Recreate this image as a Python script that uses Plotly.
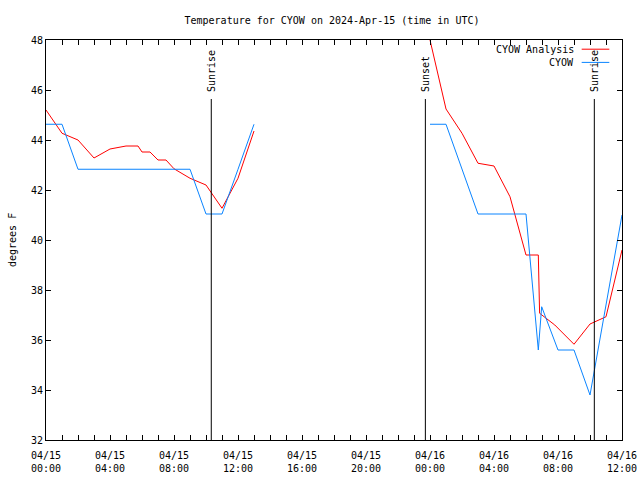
import pandas as pd
import plotly.graph_objects as go

BASE = "2024-04-15 00:00"

# CYOW Analysis (red) -- hours after 2024-04-15 00:00 UTC ; None = gap
ana_hours = [0, 1, 2, 3, 4, 5, 5.75, 6, 6.5, 7, 7.5, 8, 9, 10, 11, 12, 13,
             None,
             24, 25, 26, 27, 28, 29, 30, 30.77, 30.85, 31.8, 33, 34, 35, 36]
ana_temp = [45.2, 44.27, 44.0, 43.28, 43.64, 43.76, 43.76, 43.52, 43.52, 43.2, 43.2,
            42.85, 42.47, 42.2, 41.27, 42.47, 44.36,
            None,
            48.0, 45.24, 44.27, 43.07, 42.96, 41.73, 39.4, 39.4, 37.07, 36.6, 35.83,
            36.64, 36.93, 39.6]

# CYOW observations (blue)
obs_hours = [0, 1, 2, 9, 10, 11, 12, 13,
             None,
             24, 25, 27, 30, 30.77, 30.98, 32, 33, 34, 36]
obs_temp = [44.63, 44.63, 42.83, 42.83, 41.04, 41.04, 42.83, 44.63,
            None,
            44.63, 44.63, 41.04, 41.04, 35.6, 37.33, 35.6, 35.6, 33.8, 41.0]

# Sun events (hours after base)
event_names = ["Sunrise", "Sunset", "Sunrise"]
event_hours = [10.33, 23.71, 34.27]

x_range_hours = [0, 36]
y_range = [32, 48]

base = pd.Timestamp(BASE)


def to_time(hs):
    return [None if h is None else base + pd.Timedelta(hours=h) for h in hs]


FONT = "DejaVu Sans Mono"
RED = "#ff0000"
BLUE = "#0a84ff"

fig = go.Figure()
fig.add_trace(go.Scatter(x=to_time(ana_hours), y=ana_temp, mode="lines",
                         line=dict(color=RED, width=1), name="CYOW Analysis",
                         connectgaps=False))
fig.add_trace(go.Scatter(x=to_time(obs_hours), y=obs_temp, mode="lines",
                         line=dict(color=BLUE, width=1), name="CYOW",
                         connectgaps=False))

shapes = []
annotations = []
for name, h in zip(event_names, event_hours):
    t = base + pd.Timedelta(hours=h)
    shapes.append(dict(type="line", xref="x", yref="y", x0=t, x1=t, y0=32, y1=45.64,
                       line=dict(color="black", width=1)))
    annotations.append(dict(x=t, y=45.85, xref="x", yref="y", text=name,
                            textangle=-90, showarrow=False, xanchor="center",
                            yanchor="bottom", font=dict(family=FONT, size=10, color="black")))

# legend (text left of sample line, like gnuplot)
leg_labels = ["CYOW Analysis", "CYOW"]
leg_colors = [RED, BLUE]
leg_y = [0.977, 0.944]
for lab, col, yy in zip(leg_labels, leg_colors, leg_y):
    annotations.append(dict(x=0.920, y=yy, xref="paper", yref="paper", text=lab,
                            showarrow=False, xanchor="right", yanchor="middle",
                            font=dict(family=FONT, size=10, color="black")))
    shapes.append(dict(type="line", xref="paper", yref="paper", x0=0.930, x1=0.978,
                       y0=yy, y1=yy, line=dict(color=col, width=1)))

annotations.append(dict(x=-0.059, y=0.5, xref="paper", yref="paper", text="degrees F",
                        textangle=-90, showarrow=False, xanchor="center", yanchor="middle",
                        font=dict(family=FONT, size=10, color="black")))

W, H = 640, 480
fig.update_layout(
    width=W, height=H,
    margin=dict(l=46, r=18, t=40, b=40),
    paper_bgcolor="white", plot_bgcolor="white",
    showlegend=False,
    font=dict(family=FONT, size=10, color="black"),
    title=dict(text="Temperature for CYOW on 2024-Apr-15 (time in UTC)",
               x=332 / W, xanchor="center", y=1 - 20 / H, yanchor="middle",
               yref="container", font=dict(family=FONT, size=10, color="black")),
    shapes=shapes,
    annotations=annotations,
    xaxis=dict(
        type="date",
        range=[base + pd.Timedelta(hours=x_range_hours[0]),
               base + pd.Timedelta(hours=x_range_hours[1])],
        dtick=4 * 3600 * 1000, tick0=base,
        tickformat="%m/%d<br>%H:%M",
        ticks="inside", ticklen=5, tickcolor="black",
        ticklabelstandoff=6, ticklabeloverflow="allow",
        minor=dict(dtick=3600 * 1000, ticks="inside", ticklen=5, tickcolor="black"),
        showline=True, linecolor="black", linewidth=1, mirror="allticks",
        showgrid=False, zeroline=False, automargin=False,
        tickfont=dict(family=FONT, size=10, color="black"),
    ),
    yaxis=dict(
        range=y_range, dtick=2, tick0=32,
        ticks="inside", ticklen=5, tickcolor="black",
        showline=True, linecolor="black", linewidth=1, mirror="allticks",
        showgrid=False, zeroline=False, automargin=False,
        tickfont=dict(family=FONT, size=10, color="black"),
    ),
)

# remove the browser's default 8px body margin so the 640x480 figure fills the window
fig.write_html("out.html",
               config={"displayModeBar": False},
               post_script="document.body.style.margin='0';document.body.style.overflow='hidden';")
